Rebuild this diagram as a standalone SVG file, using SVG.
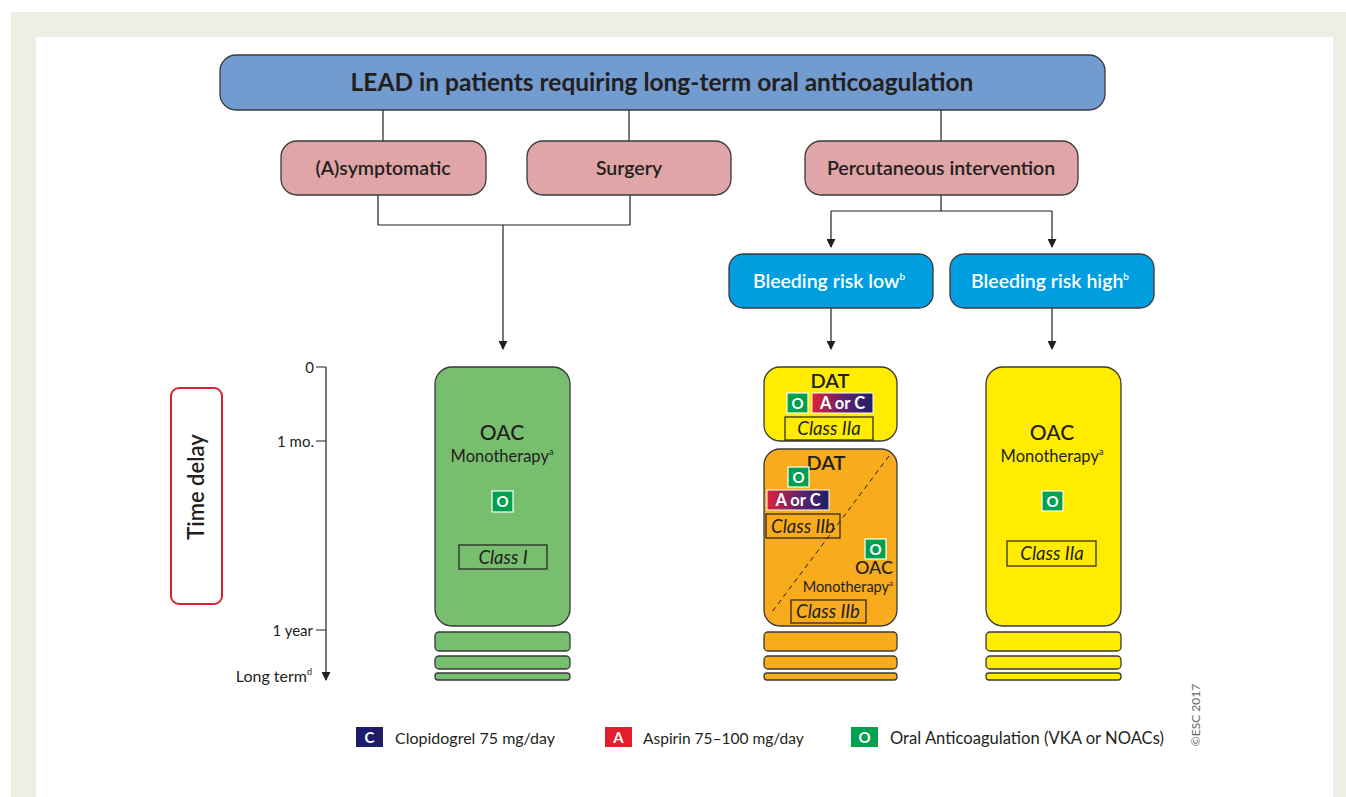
<svg xmlns="http://www.w3.org/2000/svg" width="1346" height="797" viewBox="0 0 1346 797">
<defs>
<style>
text{font-family:Lato,"Open Sans","Liberation Sans",sans-serif;fill:#231f20}
.box{stroke:#3a3a3a;stroke-width:1.3}
.ln{stroke:#231f20;stroke-width:1.2;fill:none}
.t18{font-size:19.5px;font-weight:600;text-anchor:middle}
.wt{fill:#fff}
.cls{fill:none;stroke:#231f20;stroke-width:1.2}
.ci{font-size:18.5px;font-style:italic;text-anchor:middle}
.ico{font-size:15px;font-weight:bold;fill:#fff;text-anchor:middle}
.oac{font-size:21px;font-weight:500;text-anchor:middle}
.mono{font-size:16.5px;text-anchor:middle}
.tick{font-size:15px;text-anchor:end}
.leg{font-size:16px}
</style>
<marker id="ah" viewBox="0 0 10 10" refX="9" refY="5" markerWidth="9" markerHeight="9" markerUnits="userSpaceOnUse" orient="auto">
<path d="M0,0 L10,5 L0,10 z" fill="#231f20"/>
</marker>
<linearGradient id="ac" x1="0" y1="0" x2="1" y2="0">
<stop offset="0" stop-color="#e2213a"/>
<stop offset="0.55" stop-color="#5a2270"/>
<stop offset="1" stop-color="#1f2069"/>
</linearGradient>
</defs>
<rect x="0" y="0" width="1346" height="797" fill="#fff"/>
<rect x="11" y="12" width="1335" height="785" fill="#efeee4"/>
<rect x="36" y="37" width="1297" height="760" fill="#fff"/>

<g id="connectors">
<path class="ln" d="M383,110 V141 M629,110 V141 M941,110 V141"/>
<path class="ln" d="M378,195 V225 H630 V195"/>
<path class="ln" d="M503,225 V349" marker-end="url(#ah)"/>
<path class="ln" d="M941,195 V211 M831,211 H1052"/>
<path class="ln" d="M831,211 V247" marker-end="url(#ah)"/>
<path class="ln" d="M1052,211 V247" marker-end="url(#ah)"/>
<path class="ln" d="M831,308 V349" marker-end="url(#ah)"/>
<path class="ln" d="M1052,308 V349" marker-end="url(#ah)"/>
</g>

<g id="header">
<rect class="box" x="220" y="55" width="885" height="55" rx="16" fill="#729bd0"/>
<text x="662" y="91" style="font-size:24.5px;font-weight:bold;text-anchor:middle">LEAD in patients requiring long-term oral anticoagulation</text>
</g>
<g id="asymptomatic">
<rect class="box" x="281" y="141" width="205" height="54" rx="16" fill="#dfa5a7"/>
<text class="t18" x="383" y="175">(A)symptomatic</text>
</g>
<g id="surgery">
<rect class="box" x="527" y="141" width="204" height="54" rx="16" fill="#dfa5a7"/>
<text class="t18" x="629" y="175">Surgery</text>
</g>
<g id="percutaneous">
<rect class="box" x="805" y="141" width="273" height="54" rx="16" fill="#dfa5a7"/>
<text class="t18" x="941" y="175">Percutaneous intervention</text>
</g>
<g id="bleed-low">
<rect class="box" x="729" y="254" width="204" height="54" rx="14" fill="#009ddf"/>
<text class="t18 wt" x="829" y="288">Bleeding risk low<tspan font-size="10" dy="-8">b</tspan></text>
</g>
<g id="bleed-high">
<rect class="box" x="950" y="254" width="204" height="54" rx="14" fill="#009ddf"/>
<text class="t18 wt" x="1050" y="288">Bleeding risk high<tspan font-size="10" dy="-8">b</tspan></text>
</g>

<g id="timeline">
<path class="ln" d="M326,367 V680" marker-end="url(#ah)"/>
<path class="ln" d="M316,367 H326 M316,441 H326 M316,630 H326"/>
<text class="tick" x="314" y="373">0</text>
<text class="tick" x="314" y="447">1 mo.</text>
<text class="tick" x="313" y="636">1 year</text>
<text class="tick" x="312" y="682" style="font-size:16px">Long term<tspan font-size="9" dy="-7">d</tspan></text>
</g>
<g id="time-delay">
<rect x="171" y="388" width="51" height="216" rx="8" fill="#fff" stroke="#d9232d" stroke-width="2"/>
<text x="0" y="0" transform="translate(204,487) rotate(-90)" style="font-size:22px;font-weight:600;text-anchor:middle">Time delay</text>
</g>

<g id="oac-left">
<rect class="box" x="435" y="367" width="135" height="259" rx="17" fill="#77be6f"/>
<text class="oac" x="502" y="440">OAC</text>
<text class="mono" x="502" y="462">Monotherapy<tspan font-size="9" dy="-7">a</tspan></text>
<rect x="492" y="491" width="21" height="21" fill="#00a04f" stroke="#fff" stroke-width="1.2"/>
<text class="ico" x="502.5" y="507">O</text>
<rect class="cls" x="459" y="545" width="88" height="24"/>
<text class="ci" x="503" y="564">Class I</text>
<rect class="box" x="435" y="632" width="135" height="19" rx="4" fill="#77be6f"/>
<rect class="box" x="435" y="656" width="135" height="13" rx="4" fill="#77be6f"/>
<rect class="box" x="435" y="673" width="135" height="7" rx="3" fill="#77be6f"/>
</g>

<g id="dat-low-1">
<rect class="box" x="764" y="367" width="133" height="74" rx="16" fill="#ffec00"/>
<text x="830" y="388" style="font-size:20px;font-weight:600;text-anchor:middle">DAT</text>
<rect x="787" y="393" width="21" height="20" fill="#00a04f" stroke="#fff" stroke-width="1.2"/>
<text class="ico" x="797.5" y="409">O</text>
<rect x="812" y="393" width="61" height="20" fill="url(#ac)" stroke="#fff" stroke-width="1"/>
<text class="ico" x="842.5" y="409" style="font-size:16.5px">A or C</text>
<rect class="cls" x="785" y="417" width="88" height="23"/>
<text class="ci" x="829" y="435">Class IIa</text>
</g>
<g id="dat-low-2">
<rect class="box" x="764" y="449" width="133" height="177" rx="16" fill="#f8ab1d"/>
<path d="M889,456 L772,612" stroke="#231f20" stroke-width="1" stroke-dasharray="5,4" fill="none"/>
<text x="826" y="470" style="font-size:20px;font-weight:600;text-anchor:middle">DAT</text>
<rect x="788" y="467" width="21" height="20" fill="#00a04f" stroke="#fff" stroke-width="1.2"/>
<text class="ico" x="798.5" y="483">O</text>
<rect x="767" y="490" width="62" height="20" fill="url(#ac)" stroke="#fff" stroke-width="1"/>
<text class="ico" x="798" y="506" style="font-size:16.5px">A or C</text>
<rect class="cls" x="766" y="514" width="74" height="24"/>
<text class="ci" x="803" y="533">Class IIb</text>
<rect x="865" y="539" width="21" height="20" fill="#00a04f" stroke="#fff" stroke-width="1.2"/>
<text class="ico" x="875.5" y="555">O</text>
<text x="893" y="574" style="font-size:18px;font-weight:500;text-anchor:end">OAC</text>
<text x="893" y="592" style="font-size:14.5px;text-anchor:end">Monotherapy<tspan font-size="8" dy="-6">a</tspan></text>
<rect class="cls" x="791" y="600" width="75" height="23"/>
<text class="ci" x="828" y="618">Class IIb</text>
<rect class="box" x="764" y="632" width="133" height="19" rx="4" fill="#f8ab1d"/>
<rect class="box" x="764" y="656" width="133" height="13" rx="4" fill="#f8ab1d"/>
<rect class="box" x="764" y="673" width="133" height="7" rx="3" fill="#f8ab1d"/>
</g>

<g id="oac-right">
<rect class="box" x="986" y="367" width="135" height="259" rx="17" fill="#ffec00"/>
<text class="oac" x="1052" y="440">OAC</text>
<text class="mono" x="1052" y="462">Monotherapy<tspan font-size="9" dy="-7">a</tspan></text>
<rect x="1042" y="491" width="21" height="20" fill="#00a04f" stroke="#fff" stroke-width="1.2"/>
<text class="ico" x="1052.5" y="507">O</text>
<rect class="cls" x="1007" y="541" width="89" height="25"/>
<text class="ci" x="1052" y="560">Class IIa</text>
<rect class="box" x="986" y="632" width="135" height="19" rx="4" fill="#ffec00"/>
<rect class="box" x="986" y="656" width="135" height="13" rx="4" fill="#ffec00"/>
<rect class="box" x="986" y="673" width="135" height="7" rx="3" fill="#ffec00"/>
</g>

<g id="legend">
<rect x="356" y="727" width="27" height="20" fill="#1f1d6b"/>
<text class="ico" x="369.5" y="743">C</text>
<text class="leg" x="395" y="744">Clopidogrel 75 mg/day</text>
<rect x="605" y="727" width="27" height="20" fill="#e31e2a"/>
<text class="ico" x="618.5" y="743">A</text>
<text class="leg" x="643" y="744" style="font-size:15.5px">Aspirin 75–100 mg/day</text>
<rect x="851" y="727" width="27" height="20" fill="#00a14f"/>
<text class="ico" x="864.5" y="743">O</text>
<text class="leg" x="890" y="744" style="font-size:16.6px">Oral Anticoagulation (VKA or NOACs)</text>
<text x="0" y="0" transform="translate(1200,715) rotate(-90)" style="font-size:12px;fill:#666;text-anchor:middle">©ESC 2017</text>
</g>
</svg>
